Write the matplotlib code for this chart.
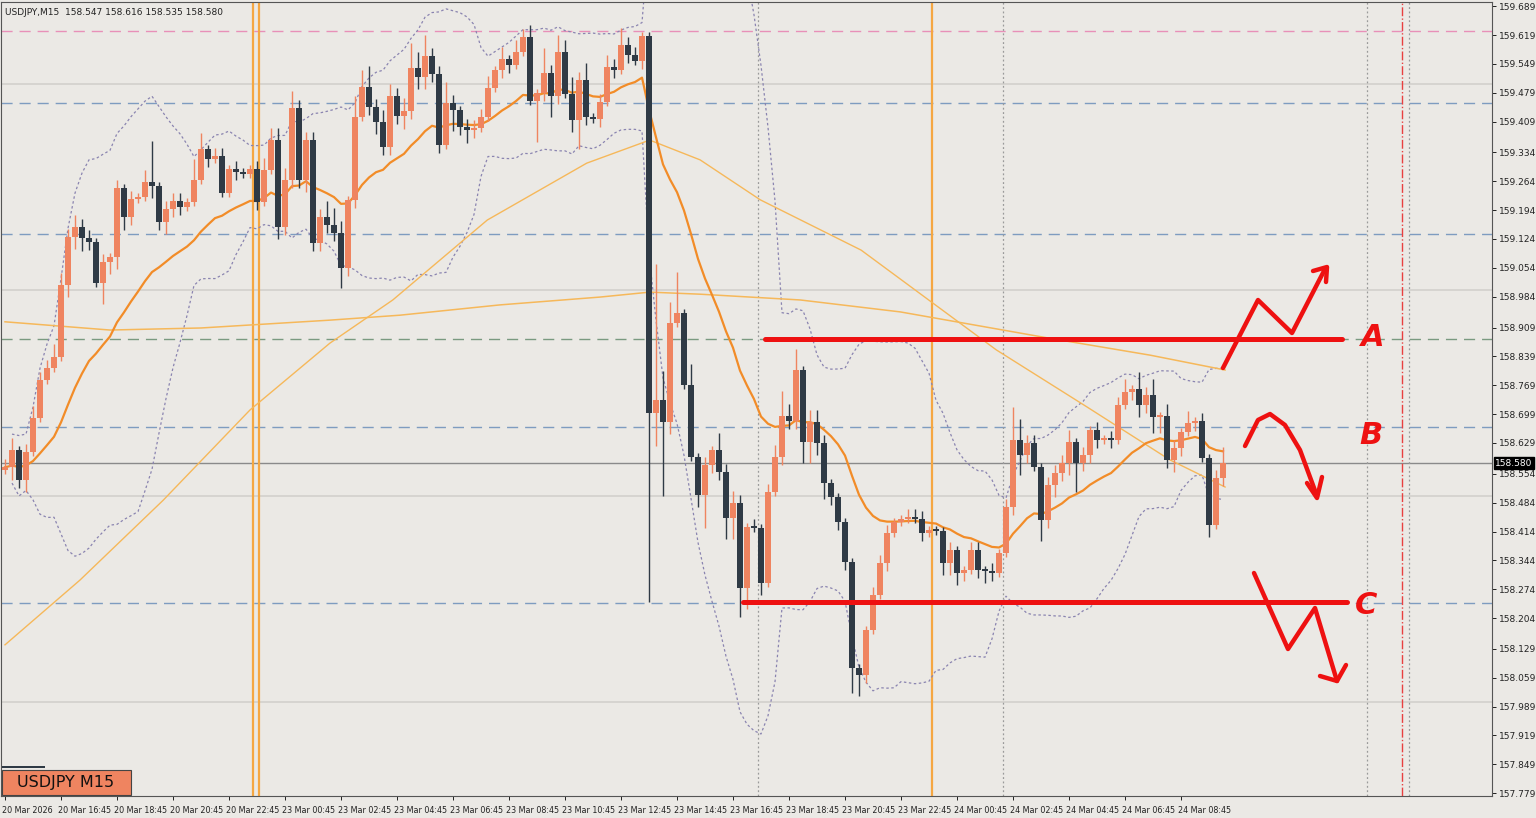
import numpy as np
import pandas as pd
import matplotlib
matplotlib.use("Agg")
import matplotlib.pyplot as plt
from matplotlib.patches import Rectangle

# ---- data (USDJPY M15) ----
first_open = 158.563
closes = [
    158.570, 158.612, 158.539, 158.607, 158.689, 158.782, 158.811, 158.838, 159.012, 159.129,
    159.153, 159.126, 159.117, 159.017, 159.068, 159.080, 159.248, 159.177, 159.221, 159.226,
    159.262, 159.253, 159.165, 159.197, 159.216, 159.202, 159.214, 159.267, 159.342, 159.318,
    159.325, 159.236, 159.294, 159.287, 159.282, 159.294, 159.214, 159.291, 159.364, 159.153,
    159.267, 159.442, 159.267, 159.364, 159.114, 159.177, 159.158, 159.138, 159.054, 159.219,
    159.420, 159.493, 159.444, 159.408, 159.347, 159.471, 159.422, 159.435, 159.539, 159.517,
    159.568, 159.524, 159.352, 159.454, 159.437, 159.396, 159.388, 159.393, 159.420, 159.490,
    159.534, 159.561, 159.546, 159.578, 159.614, 159.459, 159.478, 159.527, 159.471, 159.578,
    159.476, 159.413, 159.510, 159.420, 159.415, 159.456, 159.541, 159.534, 159.595, 159.570,
    159.556, 159.617, 158.702, 158.733, 158.680, 158.920, 158.944, 158.770, 158.595, 158.503,
    158.575, 158.612, 158.558, 158.447, 158.483, 158.277, 158.425, 158.423, 158.289, 158.510,
    158.595, 158.694, 158.682, 158.806, 158.631, 158.680, 158.629, 158.532, 158.498, 158.437,
    158.340, 158.083, 158.066, 158.175, 158.260, 158.338, 158.410, 158.437, 158.444, 158.449,
    158.444, 158.410, 158.418, 158.415, 158.338, 158.369, 158.313, 158.321, 158.369, 158.321,
    158.318, 158.313, 158.362, 158.474, 158.636, 158.600, 158.629, 158.570, 158.442, 158.527,
    158.556, 158.580, 158.631, 158.580, 158.600, 158.660, 158.636, 158.639, 158.636, 158.721,
    158.753, 158.760, 158.721, 158.745, 158.692, 158.694, 158.588, 158.617, 158.655, 158.677,
    158.682, 158.592, 158.430, 158.544, 158.580,
]
wick_up = [
    .02, .03, .01, .02, .03, .02, .02, .03, .03, .02,
    .03, .02, .02, .01, .02, .01, .02, .01, .02, .01,
    .03, .10, .01, .02, .02, .02, .01, .05, .04, .01,
    .02, .02, .01, .02, .01, .01, .02, .03, .03, .03,
    .03, .04, .02, .02, .02, .02, .04, .04, .03, .01,
    .05, .04, .05, .02, .03, .03, .02, .03, .06, .04,
    .05, .02, .02, .05, .02, .01, .02, .02, .02, .03,
    .01, .03, .01, .03, .02, .03, .01, .06, .02, .04,
    .03, .04, .02, .04, .01, .02, .03, .02, .04, .02,
    .02, .01, .01, .33, .07, .05, .10, .01, .05, .01,
    .02, .01, .04, .02, .03, .02, .01, .02, .01, .02,
    .03, .06, .03, .05, .01, .03, .03, .02, .01, .01,
    .01, .01, .01, .01, .02, .02, .02, .01, .01, .02,
    .02, .02, .01, .01, .01, .02, .01, .01, .02, .02,
    .01, .02, .01, .02, .08, .05, .02, .02, .01, .02,
    .02, .02, .03, .01, .02, .01, .02, .01, .02, .02,
    .03, .01, .04, .02, .04, .01, .03, .02, .01, .03,
    .01, .02, .01, .02, .04,
]
wick_dn = [
    .01, .03, .02, .03, .01, .01, .01, .01, .01, .03,
    .03, .03, .02, .01, .05, .03, .03, .03, .02, .01,
    .01, .03, .02, .03, .02, .02, .01, .01, .01, .02,
    .01, .01, .01, .02, .01, .01, .02, .01, .01, .03,
    .02, .02, .02, .03, .02, .02, .02, .02, .05, .02,
    .02, .01, .02, .03, .02, .02, .02, .03, .02, .03,
    .03, .02, .02, .01, .05, .02, .03, .02, .01, .01,
    .01, .02, .02, .01, .01, .01, .10, .02, .05, .02,
    .01, .03, .07, .02, .01, .02, .01, .02, .01, .02,
    .01, .02, .46, .08, .18, .03, .01, .01, .01, .03,
    .08, .02, .02, .05, .05, .07, .05, .01, .03, .01,
    .01, .02, .02, .02, .05, .05, .03, .04, .02, .02,
    .02, .06, .05, .02, .01, .01, .02, .01, .01, .01,
    .01, .02, .01, .01, .03, .03, .03, .02, .01, .02,
    .03, .02, .01, .01, .02, .05, .02, .01, .05, .02,
    .03, .02, .03, .07, .02, .02, .02, .01, .02, .01,
    .01, .02, .03, .02, .04, .04, .02, .03, .02, .01,
    .02, .01, .03, .01, .02,
]
# slow moving averages, read at sample candles
ma_mid_idx = [0, 10.7, 22.6, 35, 46.4, 55.4, 68.9, 83.1, 92.1, 99.3, 107.9, 122.3, 141.6, 154.6, 166.4, 174.3]
ma_mid_val = [158.139, 158.296, 158.490, 158.709, 158.871, 158.976, 159.170, 159.308, 159.364,
              159.316, 159.219, 159.097, 158.855, 158.716, 158.588, 158.522]
ma_slow_idx = [0, 15, 28, 46.4, 56.4, 70.7, 85, 92.1, 99.3, 113.6, 127.9, 148.9, 163.6, 174.3]
ma_slow_val = [158.923, 158.903, 158.908, 158.927, 158.939, 158.964, 158.983, 158.995, 158.990,
               158.976, 158.947, 158.884, 158.842, 158.806]
time_labels = ["20 Mar 2026", "20 Mar 16:45", "20 Mar 18:45", "20 Mar 20:45", "20 Mar 22:45",
               "23 Mar 00:45", "23 Mar 02:45", "23 Mar 04:45", "23 Mar 06:45", "23 Mar 08:45",
               "23 Mar 10:45", "23 Mar 12:45", "23 Mar 14:45", "23 Mar 16:45", "23 Mar 18:45",
               "23 Mar 20:45", "23 Mar 22:45", "24 Mar 00:45", "24 Mar 02:45", "24 Mar 04:45",
               "24 Mar 06:45", "24 Mar 08:45"]
price_ticks = [159.689, 159.619, 159.549, 159.479, 159.409, 159.334, 159.264, 159.194, 159.124,
               159.054, 158.984, 158.909, 158.839, 158.769, 158.699, 158.629, 158.554, 158.484,
               158.414, 158.344, 158.274, 158.204, 158.129, 158.059, 157.989, 157.919, 157.849,
               157.779]
last_price = 158.580

BG = "#ebe9e5"
BULL = "#ef8460"
BEAR = "#2f3a45"

c = np.array(closes)
o = np.concatenate([[first_open], c[:-1]])
h = np.maximum(o, c) + np.array(wick_up)
l = np.minimum(o, c) - np.array(wick_dn)
n = len(c)
idx = np.arange(n)

fig = plt.figure(figsize=(15.36, 8.18), dpi=100)
fig.patch.set_facecolor(BG)
ax = fig.add_axes([1 / 1536, 22 / 818, 1491 / 1536, 794 / 818])
ax.set_facecolor(BG)


def px(x, y):
    """screen pixel -> data coords (for the hand drawn marks)"""
    return (x - 5) / 7, 159.704 - 0.002427 * y


ax.set_xlim(px(1, 0)[0], px(1492, 0)[0])
ax.set_ylim(px(0, 796)[1], px(0, 2)[1])

# round-number and level lines
for lv in (159.5, 159.0, 158.5, 158.0):
    ax.axhline(lv, color="#d2d0cc", lw=1.2, zorder=1)
ax.axhline(159.629, color="#e890b8", lw=1, ls=(0, (8, 5)), zorder=1)
for lv in (159.454, 159.136, 158.668, 158.241):
    ax.axhline(lv, color="#7e9cc0", lw=1, ls=(0, (8, 5)), zorder=1)
ax.axhline(158.881, color="#7a9a80", lw=1, ls=(0, (8, 5)), zorder=1)
ax.axhline(last_price, color="#8a8a8a", lw=1, zorder=1)

for xp in (253, 259, 932):
    ax.axvline(px(xp, 0)[0], color="#f5a742", lw=1.6, zorder=1)
for xp in (758, 1003, 1367, 1409):
    ax.axvline(px(xp, 0)[0], color="#9a9a9a", lw=0.9, ls=(0, (1.5, 2)), zorder=1)
ax.axvline(px(1402, 0)[0], color="#e84040", lw=1, ls="-.", zorder=1)

# indicators
s = pd.Series(c)
ema = s.ewm(span=20, adjust=False).mean()
mid = s.rolling(20, min_periods=2).mean()
sd = s.rolling(20, min_periods=2).std()
ax.plot(idx, mid + 2 * sd, color="#8a84b0", lw=0.9, ls=(0, (2, 2)), zorder=2)
ax.plot(idx, mid - 2 * sd, color="#8a84b0", lw=0.9, ls=(0, (2, 2)), zorder=2)
ax.plot(ma_slow_idx, ma_slow_val, color="#f6b85a", lw=1.1, zorder=2)
ax.plot(ma_mid_idx, ma_mid_val, color="#f6b85a", lw=1.0, zorder=2)
ax.plot(idx, ema, color="#f28c28", lw=1.6, zorder=3)

# candles
for i in range(n):
    col = BULL if c[i] >= o[i] else BEAR
    ax.vlines(i, l[i], h[i], color=col, lw=1, zorder=4)
    lo, hi = min(o[i], c[i]), max(o[i], c[i])
    ax.add_patch(Rectangle((i - 0.36, lo), 0.72, max(hi - lo, 0.004), color=col, zorder=5, lw=0))

# hand drawn red marks
RED = "#ee1111"


def draw(pts, lw=3.2):
    xs, ys = zip(*[px(*p) for p in pts])
    ax.plot(xs, ys, color=RED, lw=lw, solid_capstyle="round", solid_joinstyle="round", zorder=7)


draw([(765, 339), (1342, 339)], lw=3.6)
draw([(743, 602), (1347, 602)], lw=3.6)
draw([(1223, 368), (1258, 300), (1292, 333), (1325, 269)])
draw([(1313, 271), (1327, 267), (1326, 282)])
draw([(1245, 446), (1258, 420), (1270, 414), (1285, 425), (1300, 450), (1317, 496)])
draw([(1307, 483), (1317, 498), (1322, 477)])
draw([(1254, 573), (1288, 649), (1315, 608), (1337, 681)])
draw([(1320, 676), (1337, 681), (1346, 665)])
for lab, (xp, yp) in (("A", (1373, 338)), ("B", (1371, 436)), ("C", (1366, 606))):
    xd, yd = px(xp, yp)
    ax.text(xd, yd, lab, color=RED, fontsize=22, fontweight="bold", style="italic",
            ha="center", va="center", zorder=8)

# axes, ticks
for sp in ax.spines.values():
    sp.set_color("#555555")
    sp.set_linewidth(0.8)
ax.yaxis.tick_right()
ax.set_yticks(price_ticks)
ax.set_yticklabels([f"{p:.3f}" for p in price_ticks], fontsize=6.5, color="#222222")
ax.tick_params(axis="y", length=3, pad=2, width=0.6)
ax.set_xticks(np.arange(len(time_labels)) * 8)
ax.set_xticklabels([])
ax.tick_params(axis="x", length=3, width=0.6)
for k, t in enumerate(time_labels):
    ax.text(k * 8 - 0.4, -0.012, t, transform=ax.get_xaxis_transform(), fontsize=5.8,
            ha="left", va="top", color="#222222")

ax.text(0.003, 0.992, "USDJPY,M15  158.547 158.616 158.535 158.580", transform=ax.transAxes,
        fontsize=6.5, va="top", color="#222222")
ax.text(1.002, (last_price - ax.get_ylim()[0]) / np.diff(ax.get_ylim())[0], f"{last_price:.3f}",
        transform=ax.transAxes, fontsize=6.5, color="white", va="center", ha="left",
        bbox=dict(boxstyle="square,pad=0.15", fc="black", ec="black"))

# symbol badge bottom left
fig.add_artist(Rectangle((2 / 1536, 23 / 818), 129 / 1536, 25 / 818, transform=fig.transFigure,
                         fc=BULL, ec="#444444", lw=0.8, zorder=10))
fig.add_artist(Rectangle((2 / 1536, 50 / 818), 43 / 1536, 2 / 818, transform=fig.transFigure,
                         fc=BEAR, ec="none", zorder=10))
fig.text(66 / 1536, 35.5 / 818, "USDJPY M15", fontsize=11.5, ha="center", va="center",
         color="#111111", zorder=11)

fig.savefig("out.png", dpi=100, facecolor=BG)
